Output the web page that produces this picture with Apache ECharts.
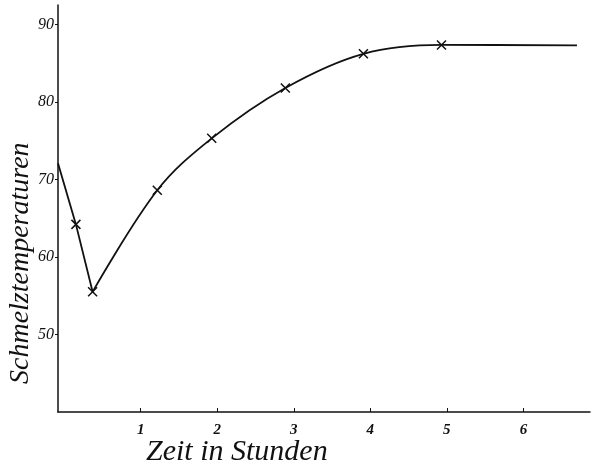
<!DOCTYPE html>
<html><head><meta charset="utf-8">
<script src="https://cdn.jsdelivr.net/npm/echarts@6/dist/echarts.min.js"></script>
<style>html,body{margin:0;padding:0;background:#fff}#c{width:592px;height:470px}</style>
</head><body><div id="c"></div>
<script>
// Falling branch (straight segments)
const fallTimes = [-0.08, 0.154, 0.372];
const fallTemps = [72.1, 64.2, 55.5];
// Rising branch (smooth curve)
const riseTimes = [0.372, 1.217, 1.928, 2.89, 3.91, 4.93, 6.70];
const riseTemps = [55.5, 68.6, 75.3, 81.8, 86.2, 87.35, 87.3];
// which points carry a cross marker
const fallMarked = [false, true, true];
const riseMarked = [false, true, true, true, true, true, false];
const xTicks = [1, 2, 3, 4, 5, 6];
const yTicks = [50, 60, 70, 80, 90];
const xTitle = 'Zeit in Stunden';
const yTitle = 'Schmelztemperaturen';

const cross = 'path://M0 0L10 10M10 0L0 10';
function build(ts, vs, marks) {
  return ts.map((t, i) => ({value: [t, vs[i]], symbol: marks[i] ? cross : 'none'}));
}
const ink = '#111';
const chart = echarts.init(document.getElementById('c'), null, {renderer: 'canvas'});
chart.setOption({
  backgroundColor: '#fff',
  animation: false,
  grid: {left: 58, right: 2, top: 5, bottom: 58},
  xAxis: {
    type: 'value', min: -0.08, max: 6.87,
    axisLine: {onZero: false, lineStyle: {color: ink, width: 1.5}},
    axisTick: {inside: true, length: 4, customValues: xTicks, lineStyle: {color: ink}},
    axisLabel: {customValues: xTicks, margin: 11, color: ink,
      fontFamily: 'Liberation Serif', fontStyle: 'italic', fontWeight: 'bold', fontSize: 15},
    splitLine: {show: false}
  },
  yAxis: {
    type: 'value', min: 40, max: 92.5,
    axisLine: {onZero: false, lineStyle: {color: ink, width: 1.5}},
    axisTick: {length: 3, customValues: yTicks, lineStyle: {color: ink}},
    axisLabel: {customValues: yTicks, margin: 4, color: ink,
      fontFamily: 'Liberation Serif', fontStyle: 'italic', fontSize: 16},
    splitLine: {show: false}
  },
  series: [
    {type: 'line', data: build(fallTimes, fallTemps, fallMarked), symbolSize: 9,
      showAllSymbol: true,
      lineStyle: {color: ink, width: 1.8},
      itemStyle: {color: 'none', borderColor: ink, borderWidth: 1.5}},
    {type: 'line', data: build(riseTimes, riseTemps, riseMarked), symbolSize: 9,
      showAllSymbol: true, smooth: 0.35,
      lineStyle: {color: ink, width: 1.8},
      itemStyle: {color: 'none', borderColor: ink, borderWidth: 1.5}}
  ],
  graphic: [
    {type: 'text', left: 146, top: 437,
      style: {text: xTitle, fill: ink, font: 'italic 30px "Liberation Serif"'}},
    {type: 'text', x: 7, y: 384, rotation: Math.PI / 2,
      style: {text: yTitle, fill: ink, font: 'italic 28px "Liberation Serif"'}}
  ]
});
</script></body></html>
